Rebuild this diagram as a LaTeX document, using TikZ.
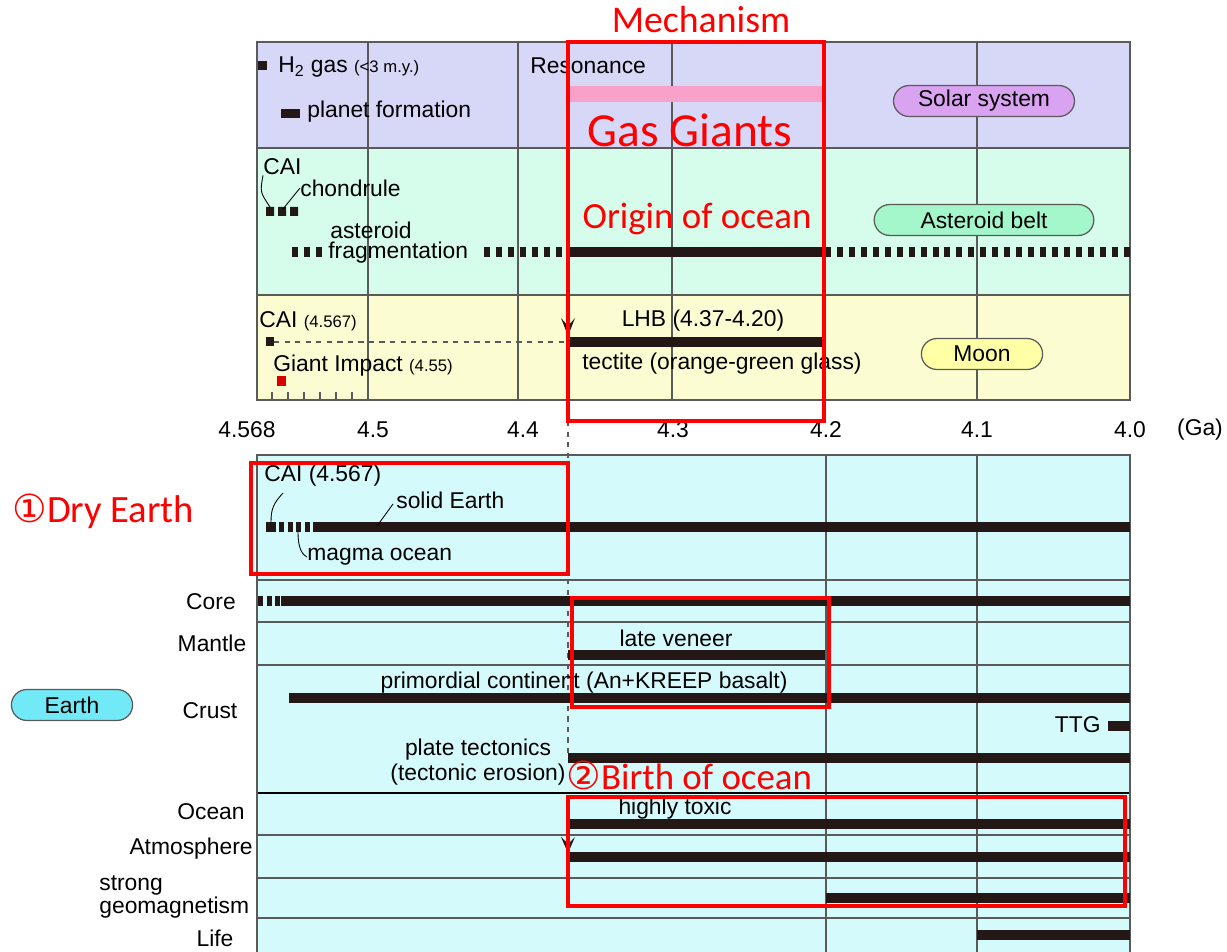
\documentclass[tikz,border=0pt]{standalone}
\usepackage{fontspec}
\setmainfont{Liberation Sans}
\newfontfamily\notefont{Carlito}
\newfontfamily\circfont{DejaVu Sans}
\usetikzlibrary{positioning}
\definecolor{solarbg}{HTML}{D7D7F8}
\definecolor{asterbg}{HTML}{D6FCEC}
\definecolor{moonbg}{HTML}{FCFCD2}
\definecolor{earthbg}{HTML}{D4FAFC}
\definecolor{barblack}{HTML}{231815}
\definecolor{gridgray}{HTML}{5A5A5A}
\definecolor{pinkbar}{HTML}{F8A2CA}
\definecolor{solarpill}{HTML}{D9A3F2}
\definecolor{asterpill}{HTML}{A3F7CB}
\definecolor{moonpill}{HTML}{FFFFA6}
\definecolor{earthpill}{HTML}{72E9F6}
\definecolor{notered}{HTML}{FF0000}
\newcommand{\minor}[1]{{\fontsize{9.5}{11}\selectfont #1}}
\newcommand{\circnum}[1]{{\circfont\fontsize{22}{25}\selectfont #1}}
\begin{document}
\begin{tikzpicture}[x=0.02cm, y=-0.02cm,
    bar/.style={barblack, line width=5.6pt},
    dotbar/.style={barblack, line width=5.6pt, dash pattern=on 3.4pt off 3.4pt},
    finedots/.style={barblack, line width=5.6pt, dash pattern=on 3pt off 1.9pt},
    grid/.style={gridgray, line width=0.6pt},
    leader/.style={black, line width=0.5pt},
    label/.style={font=\fontsize{13}{15.5}\selectfont, inner sep=0pt},
    pill/.style={draw=gridgray, line width=0.7pt, rounded corners=8.8pt,
        minimum height=17.6pt, inner sep=0pt, font=\fontsize{13}{15}\selectfont},
    note/.style={notered, inner sep=0pt, font=\notefont\fontsize{22}{26}\selectfont},
    notebox/.style={notered, line width=2.3pt}]
\useasboundingbox (0,0) rectangle (1227,952);
% Upper panel
\fill[solarbg] (257,42) rectangle (1130,148);
\fill[asterbg] (257,148) rectangle (1130,295);
\fill[moonbg] (257,295) rectangle (1130,400);
\foreach \x in {368,518,672,824,977}
    \draw[grid] (\x,42) -- (\x,400);
\draw[grid] (257,148) -- (1130,148)
            (257,295) -- (1130,295);
\draw[gridgray, line width=1pt] (257,42) rectangle (1130,400);
% Solar system
\fill[barblack] (258,61) rectangle (267,70);
\node[label, anchor=west] (h2gas) at (278,67) {H\textsubscript{2} gas \minor{(<3 m.y.)}};
\fill[barblack] (281,109) rectangle (300,118);
\node[label, anchor=west] (planet) at (307,112) {planet formation};
\node[label, anchor=west] (reso) at (530,66) {Resonance};
\fill[pinkbar] (570,86) rectangle (822,102);
\node[pill, fill=solarpill, minimum width=103pt] (solar) at (984,101) {Solar system};
% Asteroid belt
\node[label, anchor=west] (cai1) at (263,167) {CAI};
\node[label, anchor=west] (chond) at (300,188) {chondrule};
\fill[barblack] (266,207) rectangle (274,216)
                (278,207) rectangle (286,216)
                (290,207) rectangle (298,216);
\coordinate (sq1) at (270,207);
\coordinate (sq2) at (283,209);
\draw[leader] (cai1.south west) .. controls (260,192) .. (sq1);
\draw[leader] (chond.west) -- (sq2);
\node[label, anchor=west] (aster) at (330,230) {asteroid};
\node[label, anchor=west] (frag) at (328,253) {fragmentation};
\draw[dotbar] (292,252) -- (322,252);
\draw[dotbar] (484,252) -- (570,252);
\draw[bar] (570,252) -- (822,252);
\draw[dotbar] (825,252) -- (1130,252);
\node[pill, fill=asterpill, minimum width=125pt] (belt) at (984,220) {Asteroid belt};
% Moon
\node[label, anchor=west] (cai2) at (259,321) {CAI \minor{(4.567)}};
\fill[barblack] (266,337) rectangle (274,346);
\draw[gridgray, dashed, line width=0.6pt] (274,342) -- (568,342);
\fill[barblack] (561,318) -- (568,336) -- (575,318) -- (568,326) -- cycle;
\draw[bar] (568,342) -- (822,342);
\node[label] (lhb) at (703,321) {LHB (4.37-4.20)};
\node[label, anchor=west] (tect) at (582,364) {tectite (orange-green glass)};
\node[label, anchor=west] (impact) at (273,366) {Giant Impact \minor{(4.55)}};
\fill[red!85!black] (277,376) rectangle (286,386);
\foreach \x in {272,288,304,320,336,352}
    \draw[gridgray, line width=0.6pt] (\x,392) -- (\x,400);
\node[pill, fill=moonpill, minimum width=69pt] (moon) at (982,354) {Moon};
% Time axis
\node[label] (t0) at (247,430) {4.568};
\node[label] (t1) at (373,430) {4.5};
\node[label] (t2) at (523,430) {4.4};
\node[label] (t3) at (673,430) {4.3};
\node[label] (t4) at (826,430) {4.2};
\node[label] (t5) at (977,430) {4.1};
\node[label] (t6) at (1130,430) {4.0};
\node[label] (unit) at (1200,430) {(Ga)};
% Lower panel
\fill[earthbg] (257,455) rectangle (1130,952);
\foreach \x in {826,977}
    \draw[grid] (\x,455) -- (\x,952);
\foreach \y in {580,622,665,835,878,918}
    \draw[grid] (257,\y) -- (1130,\y);
\draw[black, line width=0.7pt] (257,793) -- (1130,793);
\draw[gridgray, line width=1pt] (257,952) -- (257,455) -- (1130,455) -- (1130,952);
\draw[gridgray, dashed, line width=0.7pt] (568,400) -- (568,755);
% Solid Earth
\node[label, anchor=west] (cai3) at (264,476) {CAI (4.567)};
\fill[barblack] (266,522) rectangle (276,532);
\coordinate (caisq) at (271,522);
\draw[leader] ([shift={(19,6)}]cai3.south west) .. controls +(-9,10) and +(0,-14) .. (caisq);
\draw[finedots] (279,527) -- (318,527);
\draw[bar] (318,527) -- (1130,527);
\node[label, anchor=west] (solid) at (396,500) {solid Earth};
\coordinate (solidtip) at (377,526);
\draw[leader] ([shift={(-3,4)}]solid.west) -- (solidtip);
\node[label, anchor=west] (magma) at (307,557) {magma ocean};
\coordinate (magmatip) at (298,531);
\draw[leader] (magma.west) .. controls +(-8,-4) and +(0,10) .. (magmatip);
% Core
\node[label] (core) at (211,602) {Core};
\draw[finedots] (258,601) -- (280,601);
\draw[bar] (281,601) -- (1130,601);
% Mantle
\node[label] (mantle) at (212,643) {Mantle};
\node[label] (veneer) at (676,638) {late veneer};
\draw[bar] (568,655) -- (825,655);
% Crust
\node[label] (crust) at (210,711) {Crust};
\node[label] (primo) at (584,683) {primordial continent (An+KREEP basalt)};
\draw[bar] (289,698) -- (1130,698);
\node[label, anchor=east] (ttg) at (1101,725) {TTG};
\fill[barblack] (1108,721) rectangle (1130,731);
\node[label, align=center] (plate) at (478,762) {plate tectonics\\[-1.5pt](tectonic erosion)};
\draw[bar] (568,758) -- (1130,758);
% Ocean
\node[label] (ocean) at (211,812) {Ocean};
\node[label] (toxic) at (675,809) {highly toxic};
\draw[bar] (568,824) -- (1130,824);
% Atmosphere
\node[label, anchor=east] (atmo) at (253,849) {Atmosphere};
\fill[barblack] (561,837) -- (568,853) -- (575,837) -- (568,844) -- cycle;
\draw[bar] (568,857) -- (1130,857);
% Geomagnetism
\node[label, anchor=west, align=left] (geomag) at (99,897) {strong\\[-2.5pt]geomagnetism};
\draw[bar] (826,898) -- (1130,898);
% Life
\node[label] (life) at (215,938) {Life};
\draw[bar] (977,935) -- (1130,935);
\node[pill, fill=earthpill, minimum width=69pt] (earth) at (72,705) {Earth};
% Notes
\draw[notebox] (568,42) rectangle (824,421);
\node[note, font=\notefont\fontsize{21.5}{25}\selectfont] (mech) at (701,20) {Mechanism};
\node[note, font=\notefont\fontsize{27}{30}\selectfont] (giants) at (690,130) {Gas Giants};
\node[note, font=\notefont\fontsize{21}{25}\selectfont] (origin) at (697,219) {Origin of ocean};
\draw[notebox] (251,463) rectangle (568,574);
\node[note, anchor=west] (dry) at (12,511) {\circnum{①}Dry Earth};
\draw[notebox] (572,598) rectangle (829,707);
\node[note, anchor=west, font=\notefont\fontsize{21}{25}\selectfont] (birth) at (566,775) {\circnum{②}Birth of ocean};
\draw[notebox] (568,797) rectangle (1125,906);
\end{tikzpicture}
\end{document}
